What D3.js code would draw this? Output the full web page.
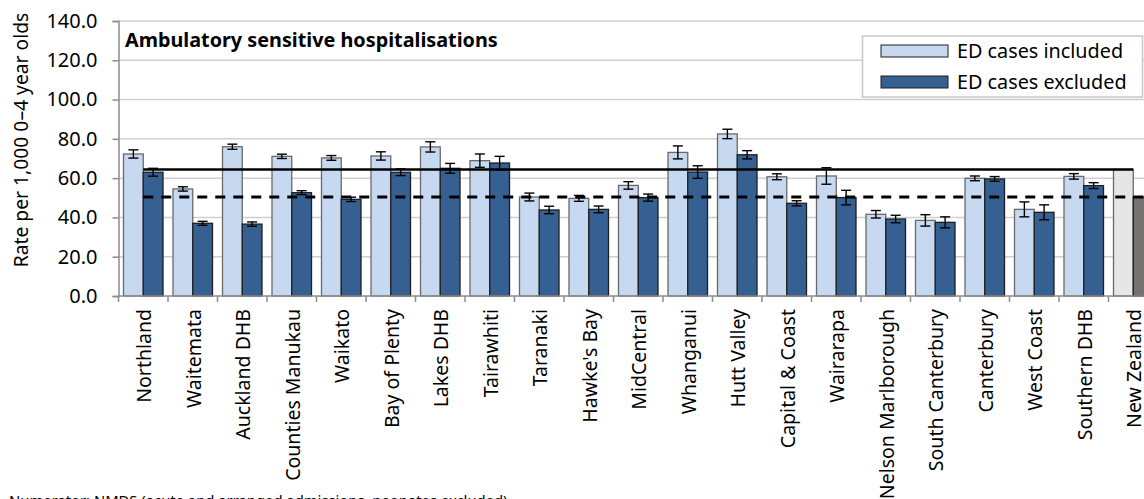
<!DOCTYPE html>
<html>
<head>
<meta charset="utf-8">
<script src="https://cdn.jsdelivr.net/npm/d3@7"></script>
<style>
  html, body { margin: 0; padding: 0; background: #fff; }
  svg { display: block; }
  text { font-family: "Noto Sans", "Open Sans", sans-serif; fill: #000; }
</style>
</head>
<body>
<svg id="chart" width="1144" height="499"></svg>
<script>
// ---- data ----
const categories = ["Northland","Waitemata","Auckland DHB","Counties Manukau","Waikato","Bay of Plenty","Lakes DHB","Tairawhiti","Taranaki","Hawke's Bay","MidCentral","Whanganui","Hutt Valley","Capital & Coast","Wairarapa","Nelson Marlborough","South Canterbury","Canterbury","West Coast","Southern DHB","New Zealand"];
const edIncluded    = [72.3, 54.5, 76.0, 71.1, 70.3, 71.3, 75.9, 68.9, 50.4, 49.7, 56.3, 73.1, 82.5, 60.7, 61.1, 41.6, 38.5, 59.9, 44.1, 60.9, 64.4];
const edIncludedErr = [2.1, 1.1, 1.3, 1.1, 1.2, 2.1, 2.6, 3.4, 2.0, 1.5, 1.9, 3.3, 2.4, 1.5, 4.2, 1.9, 2.9, 1.2, 3.8, 1.4, 0];
const edExcluded    = [63.0, 37.0, 36.6, 52.6, 49.2, 63.0, 65.0, 67.7, 43.8, 44.1, 50.1, 63.1, 71.9, 47.2, 50.1, 39.2, 37.5, 59.6, 42.6, 56.2, 50.4];
const edExcludedErr = [2.0, 1.0, 1.1, 1.0, 1.1, 1.7, 2.5, 3.4, 1.9, 1.7, 1.8, 3.2, 2.1, 1.3, 3.7, 1.9, 2.8, 1.2, 3.8, 1.5, 0];
const seriesNames = ["ED cases included", "ED cases excluded"];
const yTicks = [0, 20, 40, 60, 80, 100, 120, 140];
const title = "Ambulatory sensitive hospitalisations";
const yTitle = "Rate per 1,000 0\u20134 year olds";
const footnote = "Numerator: NMDS (acute and arranged admissions, neonates excluded)";

// ---- layout ----
const svg = d3.select("#chart");
const plotLeft = 118.5, plotTop = 21, plotBottom = 296, bandW = 49.5;
const plotRight = plotLeft + bandW * categories.length;

const x = d3.scaleBand().domain(categories).range([plotLeft, plotRight]).paddingInner(0).paddingOuter(0);
const xs = d3.scaleBand().domain(["inc", "exc"]).range([0, x.bandwidth()]).paddingInner(0).paddingOuter(0.253);
const y = d3.scaleLinear().domain([0, 140]).range([plotBottom, plotTop]);

const colors = { inc: "#c6d9f1", exc: "#376092" };
const totalColors = { inc: "#e6e6e6", exc: "#767171" };
const isTotal = c => c === "New Zealand";

// gridlines
svg.append("g").selectAll("line").data(yTicks.filter(d => d > 0)).join("line")
  .attr("x1", plotLeft).attr("x2", 1144)
  .attr("y1", d => y(d)).attr("y2", d => y(d))
  .attr("stroke", "#cfcfcf").attr("stroke-width", 1.5);

// y axis
const yAxis = svg.append("g").attr("transform", `translate(${plotLeft},0)`)
  .call(d3.axisLeft(y).tickValues(yTicks).tickFormat(d3.format(".1f")).tickSize(6).tickPadding(15));
yAxis.select(".domain").attr("stroke", "#8c8c8c").attr("stroke-width", 1.5);
yAxis.selectAll(".tick line").attr("stroke", "#8c8c8c").attr("stroke-width", 1.5);
yAxis.selectAll(".tick text").style("font-size", "20px").attr("fill", "#000").style("font-family", '"Noto Sans", sans-serif');

// bars
const rows = categories.map((c, i) => ({ c, i }));
const g = svg.append("g");
rows.forEach(r => {
  const vals = [["inc", edIncluded[r.i], edIncludedErr[r.i]], ["exc", edExcluded[r.i], edExcludedErr[r.i]]];
  vals.forEach(([k, v]) => {
    g.append("rect")
      .attr("x", x(r.c) + xs(k)).attr("width", xs.bandwidth())
      .attr("y", y(v)).attr("height", y(0) - y(v))
      .attr("fill", isTotal(r.c) ? totalColors[k] : colors[k])
      .attr("stroke", k === "inc" ? "#6a6a6a" : "#1e1e1e").attr("stroke-width", 1.3);
  });
});

// x axis
const xAxisG = svg.append("g").attr("transform", `translate(0,${plotBottom})`);
xAxisG.append("line").attr("x1", plotLeft).attr("x2", 1144).attr("y1", 0).attr("y2", 0)
  .attr("stroke", "#8c8c8c").attr("stroke-width", 1.5);
xAxisG.selectAll("line.tk").data(categories).join("line").attr("class", "tk")
  .attr("x1", d => x(d)).attr("x2", d => x(d)).attr("y1", 0).attr("y2", 6)
  .attr("stroke", "#8c8c8c").attr("stroke-width", 1.5);
xAxisG.selectAll("text").data(categories).join("text")
  .attr("transform", d => `translate(${x(d) + x.bandwidth() / 2 + 8},13) rotate(-90)`)
  .attr("text-anchor", "end")
  .style("font-size", "19.5px")
  .text(d => d);

// reference lines (New Zealand rates)
const nzInc = edIncluded[categories.length - 1];
const nzExc = edExcluded[categories.length - 1];
const cx0 = x(categories[0]) + x.bandwidth() / 2;
const cxN = x(categories[categories.length - 1]) + x.bandwidth() / 2;
svg.append("line").attr("x1", cx0).attr("x2", cxN).attr("y1", y(nzInc)).attr("y2", y(nzInc))
  .attr("stroke", "#000").attr("stroke-width", 2.5);
svg.append("line").attr("x1", cx0).attr("x2", plotRight).attr("y1", y(nzExc)).attr("y2", y(nzExc))
  .attr("stroke", "#000").attr("stroke-width", 2.8).attr("stroke-dasharray", "10,8");

// error bars
rows.forEach(r => {
  const vals = [["inc", edIncluded[r.i], edIncludedErr[r.i]], ["exc", edExcluded[r.i], edExcludedErr[r.i]]];
  vals.forEach(([k, v, e]) => {
    if (!e) return;
    const cx = x(r.c) + xs(k) + xs.bandwidth() / 2;
    const eg = g.append("g").attr("stroke", "#000").attr("stroke-width", 1.4);
    eg.append("line").attr("x1", cx).attr("x2", cx).attr("y1", y(v + e)).attr("y2", y(v - e));
    eg.append("line").attr("x1", cx - 5).attr("x2", cx + 5).attr("y1", y(v + e)).attr("y2", y(v + e));
    eg.append("line").attr("x1", cx - 5).attr("x2", cx + 5).attr("y1", y(v - e)).attr("y2", y(v - e));
  });
});

// title
svg.append("text").attr("x", 125).attr("y", 47)
  .style("font-size", "19.8px").style("font-weight", "bold").text(title);

// y title
svg.append("text").attr("transform", `translate(28,140) rotate(-90)`)
  .attr("text-anchor", "middle").style("font-size", "19.3px").text(yTitle);

// legend
const lg = svg.append("g");
lg.append("rect").attr("x", 862.5).attr("y", 36).attr("width", 280).attr("height", 61)
  .attr("fill", "#fff").attr("stroke", "#c8c8c8").attr("stroke-width", 1.5);
[["inc", 45], ["exc", 76]].forEach(([k, yy], i) => {
  lg.append("rect").attr("x", 881).attr("y", yy).attr("width", 67).attr("height", 12)
    .attr("fill", colors[k]).attr("stroke", "#1e1e1e").attr("stroke-width", 1);
  lg.append("text").attr("x", 957).attr("y", yy + 13).style("font-size", "19.8px").text(seriesNames[i]);
});

// footnote (cropped at bottom, as in the source image)
svg.append("text").attr("x", 9).attr("y", 506).style("font-size", "14.8px").text(footnote);
</script>
</body>
</html>
